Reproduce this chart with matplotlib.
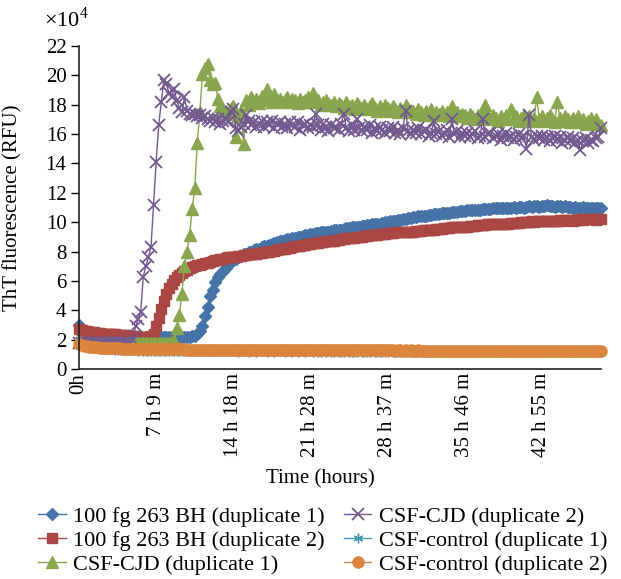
import numpy as np
import matplotlib
matplotlib.use("Agg")
import matplotlib.pyplot as plt

plt.rcParams['font.family'] = ['Liberation Serif', 'DejaVu Serif']
plt.rcParams['mathtext.fontset'] = 'custom'
plt.rcParams['mathtext.rm'] = 'Liberation Serif'

# one reading every ~14.3 min, values in units of 10^4 RFU
tick_labels = ["0h", "7 h 9 m", "14 h 18 m", "21 h 28 m", "28 h 37 m", "35 h 46 m", "42 h 55 m"]

bh_dup1 = [
    3.0, 2.6, 2.45, 2.35, 2.3, 2.3, 2.25, 2.25, 2.2, 2.2,
    2.2, 2.2, 2.15, 2.2, 2.15, 2.15, 2.2, 2.15, 2.15, 2.15,
    2.15, 2.15, 2.1, 2.15, 2.15, 2.1, 2.15, 2.15, 2.1, 2.15,
    2.15, 2.15, 2.2, 2.15, 2.2, 2.2, 2.15, 2.2, 2.2, 2.2,
    2.2, 2.2, 2.2, 2.2, 2.25, 2.25, 2.35, 2.6, 2.95, 3.6,
    4.2, 5.0, 5.4, 5.9, 6.3, 6.5, 6.7, 6.9, 7.1, 7.3,
    7.4, 7.5, 7.6, 7.7, 7.8, 7.85, 7.95, 8.0, 8.1, 8.15,
    8.2, 8.3, 8.35, 8.4, 8.45, 8.5, 8.55, 8.65, 8.7, 8.75,
    8.8, 8.85, 8.85, 8.9, 8.95, 9.0, 9.0, 9.05, 9.1, 9.15,
    9.2, 9.2, 9.25, 9.25, 9.3, 9.3, 9.35, 9.35, 9.4, 9.45,
    9.45, 9.5, 9.5, 9.55, 9.6, 9.6, 9.65, 9.65, 9.7, 9.7,
    9.75, 9.75, 9.8, 9.8, 9.85, 9.85, 9.9, 9.9, 9.95, 10.0,
    10.0, 10.05, 10.05, 10.1, 10.15, 10.15, 10.2, 10.25, 10.3, 10.3,
    10.35, 10.35, 10.4, 10.4, 10.45, 10.45, 10.5, 10.5, 10.55, 10.55,
    10.55, 10.6, 10.6, 10.65, 10.65, 10.7, 10.7, 10.7, 10.75, 10.75,
    10.75, 10.8, 10.8, 10.8, 10.85, 10.85, 10.85, 10.9, 10.9, 10.9,
    10.9, 10.95, 10.95, 10.95, 11.0, 10.95, 11.0, 11.0, 11.0, 11.05,
    11.0, 11.05, 11.05, 11.0, 11.05, 11.1, 11.05, 11.1, 11.1, 11.05,
    11.1, 11.1, 11.15, 11.1, 11.1, 11.05, 11.1, 11.1, 11.05, 11.1,
    11.05, 11.05, 11.0, 11.05, 11.0, 11.0, 11.05, 11.0, 10.95, 11.0,
    10.95, 11.0, 10.95, 11.0,
]

bh_dup2 = [
    2.7, 2.65, 2.6, 2.6, 2.55, 2.5, 2.5, 2.45, 2.45, 2.4,
    2.4, 2.4, 2.35, 2.35, 2.35, 2.3, 2.3, 2.3, 2.3, 2.25,
    2.25, 2.25, 2.25, 2.2, 2.2, 2.2, 2.2, 2.2, 2.25, 2.4,
    2.9, 3.5, 4.1, 4.6, 5.1, 5.5, 5.8, 6.05, 6.25, 6.4,
    6.55, 6.65, 6.75, 6.85, 6.95, 7.0, 7.05, 7.1, 7.15, 7.2,
    7.25, 7.3, 7.35, 7.4, 7.45, 7.5, 7.5, 7.55, 7.6, 7.6,
    7.65, 7.65, 7.7, 7.7, 7.75, 7.75, 7.8, 7.8, 7.85, 7.85,
    7.9, 7.9, 7.95, 8.0, 8.0, 8.05, 8.05, 8.1, 8.15, 8.2,
    8.2, 8.25, 8.25, 8.3, 8.35, 8.35, 8.4, 8.45, 8.45, 8.5,
    8.5, 8.55, 8.6, 8.6, 8.65, 8.65, 8.7, 8.7, 8.75, 8.75,
    8.8, 8.8, 8.85, 8.85, 8.9, 8.9, 8.95, 8.95, 9.0, 9.0,
    9.0, 9.05, 9.05, 9.1, 9.1, 9.15, 9.15, 9.2, 9.2, 9.2,
    9.25, 9.25, 9.25, 9.3, 9.3, 9.3, 9.3, 9.35, 9.35, 9.35,
    9.35, 9.4, 9.4, 9.4, 9.45, 9.45, 9.5, 9.5, 9.5, 9.55,
    9.55, 9.55, 9.6, 9.6, 9.6, 9.65, 9.65, 9.65, 9.7, 9.7,
    9.7, 9.7, 9.75, 9.75, 9.75, 9.8, 9.8, 9.8, 9.8, 9.85,
    9.85, 9.85, 9.85, 9.9, 9.9, 9.9, 9.9, 9.9, 9.95, 9.95,
    9.95, 9.95, 10.0, 10.0, 10.0, 10.0, 10.05, 10.0, 10.05, 10.05,
    10.05, 10.1, 10.05, 10.1, 10.1, 10.1, 10.1, 10.15, 10.1, 10.15,
    10.15, 10.15, 10.1, 10.15, 10.15, 10.2, 10.15, 10.2, 10.2, 10.2,
    10.2, 10.15, 10.2, 10.2,
]

cjd_dup1 = [
    1.85, 1.85, 1.8, 1.8, 1.8, 1.8, 1.8, 1.8, 1.8, 1.8,
    1.8, 1.8, 1.8, 1.8, 1.8, 1.8, 1.8, 1.8, 1.8, 1.8,
    1.8, 1.8, 1.8, 1.8, 1.8, 1.8, 1.8, 1.8, 1.8, 1.8,
    1.8, 1.8, 1.8, 1.8, 1.8, 1.8, 1.85, 1.9, 2.8, 3.7,
    5.1, 7.0, 8.0, 9.1, 10.9, 12.3, 15.4, 17.5, 20.1, 20.5,
    20.8, 19.7, 19.4, 19.5, 18.4, 17.9, 17.6, 17.6, 17.4, 17.8,
    17.9, 15.8, 17.2, 17.6, 15.3, 18.3, 18.0, 18.5, 18.2, 18.4,
    18.1, 18.6, 18.3, 19.1, 18.5, 18.2, 18.7, 18.3, 18.4, 18.2,
    18.3, 18.5, 18.2, 18.4, 18.3, 18.1, 18.4, 18.2, 18.3, 18.5,
    18.2, 18.8, 18.4, 18.3, 18.0, 18.2, 18.3, 18.1, 18.0, 18.2,
    17.9, 18.1, 18.0, 17.8, 18.2, 17.9, 18.0, 17.7, 18.1, 17.9,
    17.8, 18.0, 17.7, 17.9, 18.1, 17.8, 17.6, 17.9, 17.7, 18.0,
    17.8, 17.6, 17.9, 17.7, 17.5, 17.8, 17.6, 18.0, 17.7, 17.5,
    17.6, 17.4, 17.7, 17.5, 17.3, 17.6, 17.4, 17.7, 17.3, 17.5,
    17.4, 17.6, 17.3, 17.5, 17.2, 17.9, 17.3, 17.5, 17.2, 17.4,
    17.3, 17.1, 17.4, 17.2, 17.0, 17.3, 17.1, 17.4, 18.0, 17.2,
    17.0, 17.3, 17.1, 16.9, 17.2, 17.0, 17.3, 17.1, 17.7, 17.0,
    17.2, 16.9, 17.1, 17.3, 17.0, 17.2, 16.9, 17.1, 18.5, 17.0,
    17.2, 16.9, 17.1, 17.3, 17.0, 16.8, 18.2, 17.1, 16.9, 17.2,
    17.0, 16.8, 17.1, 16.9, 17.2, 16.8, 17.0, 16.7, 16.9, 17.1,
    16.8, 17.0, 16.7, 16.6,
]

cjd_dup2 = [
    1.75, 1.75, 1.75, 1.75, 1.75, 1.75, 1.75, 1.75, 1.75, 1.75,
    1.75, 1.75, 1.75, 1.75, 1.75, 1.75, 1.75, 1.75, 1.75, 1.75,
    1.8, 2.0, 2.9, 3.4, 3.9, 6.3, 7.0, 7.6, 8.3, 11.2,
    14.1, 16.6, 18.2, 19.7, 19.4, 18.8, 18.5, 19.1, 18.3, 17.8,
    17.5, 18.5, 17.6, 17.4, 17.3, 17.4, 17.2, 17.3, 17.1, 17.2,
    17.0, 16.9, 17.1, 16.8, 17.0, 16.7, 16.9, 17.0, 16.8, 17.5,
    17.7, 16.4, 16.2, 16.5, 16.7, 17.3, 16.9, 16.6, 16.8, 16.5,
    16.7, 16.9, 16.5, 16.8, 16.6, 16.9, 16.4, 16.7, 16.8, 16.5,
    16.7, 16.4, 16.8, 16.6, 16.5, 16.8, 16.3, 16.6, 16.7, 16.4,
    16.6, 16.5, 17.4, 16.6, 16.3, 16.7, 16.5, 16.2, 16.6, 16.4,
    16.5, 16.3, 16.7, 17.4, 16.4, 16.2, 16.6, 16.3, 17.0, 16.4,
    16.2, 16.5, 16.3, 16.6, 16.1, 16.4, 16.2, 16.5, 16.3, 16.1,
    16.4, 16.2, 16.5, 16.1, 16.3, 16.0, 16.4, 17.6, 16.2, 16.0,
    16.3, 16.1, 16.4, 16.0, 16.2, 16.3, 15.9, 16.1, 16.9, 16.0,
    16.2, 15.9, 16.1, 16.3, 15.8, 17.0, 16.0, 16.2, 15.8, 16.1,
    15.9, 16.1, 15.8, 16.0, 16.2, 15.7, 15.9, 17.0, 15.8, 16.0,
    16.1, 15.7, 15.9, 16.0, 15.6, 15.9, 16.1, 15.7, 15.9, 15.6,
    15.8, 16.0, 15.7, 15.9, 15.0, 17.3, 15.8, 15.6, 15.9, 15.7,
    15.9, 15.6, 15.8, 15.5, 15.7, 15.9, 15.6, 15.8, 15.4, 15.6,
    15.8, 15.5, 15.7, 15.4, 15.6, 14.9, 15.5, 15.7, 15.4, 15.6,
    15.5, 15.7, 15.8, 16.4,
]

ctrl_dup1 = [
    1.85, 1.7, 1.6, 1.55, 1.5, 1.45, 1.45, 1.4, 1.4, 1.4,
    1.35, 1.35, 1.35, 1.35, 1.3, 1.3, 1.3, 1.3, 1.3, 1.3,
    1.28, 1.27, 1.28, 1.26, 1.27, 1.26, 1.25, 1.26, 1.25, 1.25,
    1.24, 1.25, 1.24, 1.24, 1.23, 1.24, 1.23, 1.23, 1.24, 1.23,
    1.22, 1.23, 1.22, 1.23, 1.22, 1.22, 1.21, 1.22, 1.22, 1.21,
    1.21, 1.22, 1.21, 1.2, 1.21, 1.21, 1.2, 1.21, 1.2, 1.2,
    1.21, 1.2, 1.19, 1.2, 1.21, 1.2, 1.19, 1.2, 1.2, 1.19,
    1.2, 1.21, 1.2, 1.19, 1.2, 1.2, 1.19, 1.2, 1.21, 1.2,
    1.19, 1.2, 1.2, 1.19, 1.2, 1.19, 1.2, 1.21, 1.19, 1.2,
    1.2, 1.19, 1.2, 1.19, 1.18, 1.2, 1.19, 1.2, 1.19, 1.19,
    1.2, 1.19, 1.18, 1.19, 1.2, 1.19, 1.19, 1.18, 1.19, 1.2,
    1.19, 1.18, 1.19, 1.19, 1.2, 1.18, 1.19, 1.19, 1.18, 1.19,
    1.19, 1.2, 1.18, 1.19, 1.18, 1.19, 1.19, 1.18, 1.2, 1.19,
    1.18, 1.19, 1.18, 1.19, 1.19, 1.18, 1.19, 1.18, 1.19, 1.18,
    1.19, 1.18, 1.19, 1.18, 1.18, 1.19, 1.18, 1.19, 1.18, 1.18,
    1.19, 1.18, 1.18, 1.19, 1.18, 1.18, 1.19, 1.18, 1.17, 1.18,
    1.18, 1.19, 1.18, 1.18, 1.17, 1.18, 1.18, 1.19, 1.18, 1.17,
    1.18, 1.18, 1.17, 1.18, 1.18, 1.17, 1.18, 1.18, 1.17, 1.18,
    1.18, 1.17, 1.18, 1.17, 1.18, 1.18, 1.17, 1.18, 1.17, 1.17,
    1.18, 1.17, 1.18, 1.17, 1.17, 1.18, 1.17, 1.17, 1.18, 1.17,
    1.17, 1.18, 1.17, 1.17,
]

ctrl_dup2 = [
    1.7, 1.62, 1.58, 1.55, 1.52, 1.5, 1.48, 1.47, 1.46, 1.45,
    1.44, 1.43, 1.42, 1.41, 1.41, 1.4, 1.4, 1.39, 1.39, 1.38,
    1.38, 1.38, 1.37, 1.37, 1.37, 1.36, 1.36, 1.36, 1.36, 1.35,
    1.35, 1.35, 1.35, 1.34, 1.34, 1.34, 1.34, 1.33, 1.33, 1.33,
    1.33, 1.33, 1.32, 1.32, 1.32, 1.32, 1.32, 1.32, 1.31, 1.31,
    1.31, 1.31, 1.31, 1.31, 1.31, 1.3, 1.3, 1.3, 1.3, 1.3,
    1.3, 1.3, 1.3, 1.3, 1.3, 1.3, 1.3, 1.29, 1.3, 1.29,
    1.29, 1.29, 1.29, 1.29, 1.3, 1.29, 1.29, 1.29, 1.29, 1.29,
    1.29, 1.29, 1.29, 1.28, 1.29, 1.29, 1.28, 1.29, 1.28, 1.28,
    1.28, 1.28, 1.29, 1.28, 1.28, 1.28, 1.28, 1.28, 1.28, 1.28,
    1.28, 1.28, 1.27, 1.28, 1.28, 1.27, 1.28, 1.27, 1.28, 1.27,
    1.27, 1.27, 1.28, 1.27, 1.27, 1.27, 1.27, 1.27, 1.27, 1.27,
    1.27, 1.27, 1.27, 1.26, 1.27, 1.27, 1.26, 1.27, 1.26, 1.27,
    1.26, 1.26, 1.27, 1.26, 1.26, 1.26, 1.26, 1.26, 1.26, 1.26,
    1.26, 1.26, 1.26, 1.26, 1.25, 1.26, 1.26, 1.25, 1.26, 1.25,
    1.26, 1.25, 1.25, 1.26, 1.25, 1.25, 1.25, 1.25, 1.26, 1.25,
    1.25, 1.25, 1.25, 1.25, 1.25, 1.25, 1.24, 1.25, 1.25, 1.24,
    1.25, 1.25, 1.24, 1.25, 1.24, 1.25, 1.24, 1.24, 1.25, 1.24,
    1.24, 1.24, 1.24, 1.24, 1.24, 1.24, 1.24, 1.23, 1.24, 1.24,
    1.23, 1.24, 1.23, 1.24, 1.23, 1.23, 1.24, 1.23, 1.23, 1.23,
    1.23, 1.23, 1.23, 1.23,
]

labels = [
    "100 fg 263 BH (duplicate 1)",
    "100 fg 263 BH (duplicate 2)",
    "CSF-CJD (duplicate 1)",
    "CSF-CJD (duplicate 2)",
    "CSF-control (duplicate 1)",
    "CSF-control (duplicate 2)",
]

FS = 15

fig = plt.figure(figsize=(6.21, 5.79), dpi=100)
ax = fig.add_axes([79 / 621, 1 - 369 / 579, 522 / 621, 323 / 579])

x = np.arange(len(bh_dup1))

styles = [
    (bh_dup1, '#4572A7', 'D', 6.5, {}),
    (bh_dup2, '#AA4643', 's', 7.5, {}),
    (cjd_dup1, '#89A54E', '^', 8.5, {}),
    (cjd_dup2, '#71588F', 'x', 8, {'markeredgewidth': 1.3}),
    (ctrl_dup1, '#4198AF', (6, 2, 0), 7, {'markeredgewidth': 1.0}),
    (ctrl_dup2, '#DB843D', 'o', 8, {}),
]

for (vals, col, mk, ms, extra), lab in zip(styles, labels):
    ax.plot(x, vals, color=col, lw=1.0, marker=mk, markersize=ms,
            markeredgecolor=col, markerfacecolor=col, label=lab,
            clip_on=False, **extra)

ax.set_xlim(0, len(bh_dup1) - 1)
ax.set_ylim(0, 22)
ax.set_yticks(np.arange(0, 23, 2))
ax.set_xticks(np.arange(0, 181, 30))
ax.set_xticklabels(tick_labels, rotation=90, va='top', ha='center')
ax.tick_params(axis='y', direction='out', length=6, width=1, labelsize=FS, pad=3)
ax.tick_params(axis='x', length=0, labelsize=FS, pad=3)

for s in ['top', 'right']:
    ax.spines[s].set_visible(False)
for s in ['left', 'bottom']:
    ax.spines[s].set_linewidth(1.2)
    ax.spines[s].set_color('#222222')

ax.set_ylabel("ThT fluorescence (RFU)", fontsize=FS)
ax.yaxis.set_label_coords(-57 / 522, 0.5)
fig.text(320 / 621, 1 - 479 / 579, "Time (hours)", ha='center', va='center', fontsize=FS)
fig.text(44 / 621, 1 - 20 / 579, r'$\times10^4$', ha='left', va='center', fontsize=16)

leg = fig.legend(loc='upper left', bbox_to_anchor=(38 / 621, 1 - 506 / 579), ncol=2,
                 frameon=False, fontsize=16, numpoints=1, handlelength=1.25,
                 handletextpad=0.33, columnspacing=0.85, labelspacing=0.17,
                 borderaxespad=0, borderpad=0)

fig.savefig("out.png", dpi=100)
